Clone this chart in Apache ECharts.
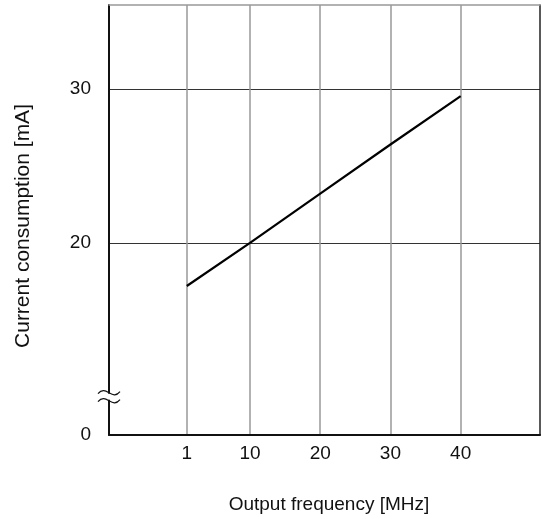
<!DOCTYPE html>
<html>
<head>
<meta charset="utf-8">
<script src="https://cdn.jsdelivr.net/npm/echarts@6/dist/echarts.min.js"></script>
<style>
  html, body { margin: 0; padding: 0; background: #fff; }
  #chart { width: 542px; height: 519px; }
</style>
</head>
<body>
<div id="chart"></div>
<script>
// ---- data ----
const freqMHz = [1, 10, 20, 30, 40];
const currentMA = [17.2, 20.0, 23.2, 26.4, 29.55];
const xTickValues = [1, 10, 20, 30, 40];
const yTickValues = [20, 30];
const yZeroLabel = '0';
const yBreakValue = 10;          // where the axis break mark sits
const xRange = [-10.08, 51.3];
const yRange = [7.51, 35.47];    // bottom of the (broken) axis is labelled 0
const xName = 'Output frequency [MHz]';
const yName = 'Current consumption [mA]';

const FONT = 'Liberation Sans, Arial, sans-serif';
const chart = echarts.init(document.getElementById('chart'), null, { renderer: 'canvas' });

const option = {
  animation: false,
  backgroundColor: '#fff',
  grid: { left: 109, right: 2, top: 5, bottom: 84, containLabel: false },
  xAxis: [{
    type: 'value', min: xRange[0], max: xRange[1],
    position: 'bottom',
    name: xName, nameLocation: 'middle', nameGap: 60,
    nameTextStyle: { fontFamily: FONT, fontSize: 19, color: '#111', padding: [0, 0, 0, 9] },
    axisLine: { show: true, onZero: false, lineStyle: { color: '#111', width: 2 } },
    axisTick: { show: false, customValues: xTickValues },
    axisLabel: { customValues: xTickValues, fontFamily: FONT, fontSize: 19, color: '#111', margin: 9 },
    splitLine: { show: true, lineStyle: { color: '#999', width: 1.5 } }
  }, {
    type: 'value', min: xRange[0], max: xRange[1], position: 'top',
    axisLine: { show: true, onZero: false, lineStyle: { color: '#999', width: 1.5 } },
    axisTick: { show: false }, axisLabel: { show: false }, splitLine: { show: false }
  }],
  yAxis: [{
    type: 'value', min: yRange[0], max: yRange[1],
    position: 'left',
    name: yName, nameLocation: 'middle', nameGap: 75, nameRotate: 90,
    nameTextStyle: { fontFamily: FONT, fontSize: 21, color: '#111', padding: [0, 12, 0, 0] },
    axisLine: { show: true, onZero: false, lineStyle: { color: '#111', width: 2 } },
    axisTick: { show: false, customValues: yTickValues },
    axisLabel: {
      customValues: [yRange[0]].concat(yTickValues),
      fontFamily: FONT, fontSize: 19, color: '#111', margin: 18,
      formatter: function (v) { return v === yRange[0] ? yZeroLabel : String(v); }
    },
    splitLine: { show: true, lineStyle: { color: '#333', width: 1 } }
  }, {
    type: 'value', min: yRange[0], max: yRange[1], position: 'right',
    axisLine: { show: true, onZero: false, lineStyle: { color: '#222', width: 1.5 } },
    axisTick: { show: false }, axisLabel: { show: false }, splitLine: { show: false }
  }],
  series: [{
    type: 'line',
    data: freqMHz.map((f, i) => [f, currentMA[i]]),
    showSymbol: false, symbol: 'none',
    lineStyle: { color: '#000', width: 2.2 },
    z: 5
  }]
};
chart.setOption(option);

// axis-break mark ("≈") placed via the axis scales
const bx = chart.convertToPixel({ xAxisIndex: 0 }, xRange[0]);
const by = chart.convertToPixel({ yAxisIndex: 0 }, yBreakValue);
function tilde(dy) {
  return {
    type: 'bezierCurve',
    shape: { x1: bx - 11, y1: by + dy + 1, cpx1: bx - 3, cpy1: by + dy - 9,
             cpx2: bx + 3, cpy2: by + dy + 9, x2: bx + 11, y2: by + dy - 1 },
    style: { stroke: '#111', lineWidth: 1.2, fill: null },
    z: 100
  };
}
chart.setOption({
  graphic: [
    { type: 'rect', shape: { x: bx - 3, y: by - 3, width: 6, height: 6 },
      style: { fill: '#fff' }, z: 99 },
    tilde(-4), tilde(4)
  ]
});
</script>
</body>
</html>
